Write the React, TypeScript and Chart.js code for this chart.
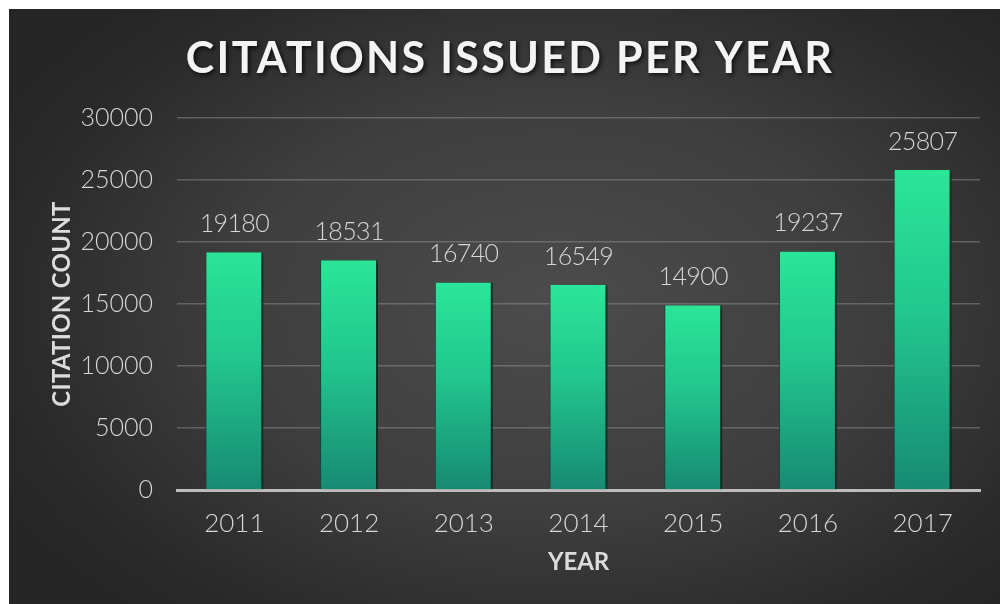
import React, { useEffect, useRef } from "react";
import { Chart, registerables } from "chart.js";

Chart.register(...registerables);

const years = ["2011", "2012", "2013", "2014", "2015", "2016", "2017"];
const citations = [19180, 18531, 16740, 16549, 14900, 19237, 25807];
const yMin = 0;
const yMax = 30000;
const yStep = 5000;
const chartTitle = "CITATIONS ISSUED PER YEAR";
const xAxisTitle = "YEAR";
const yAxisTitle = "CITATION COUNT";

const W = 991;
const H = 595;

function fitText(ctx: CanvasRenderingContext2D, text: string, target: number) {
  (ctx as any).letterSpacing = "0px";
  const w = ctx.measureText(text).width;
  const sp = (target - w) / Math.max(1, text.length - 1);
  (ctx as any).letterSpacing = `${sp.toFixed(2)}px`;
}

const textPlugin = {
  id: "customText",
  beforeDatasetsDraw(chart: any) {
    const ctx = chart.ctx;
    ctx.save();
    ctx.shadowColor = "rgba(0,0,0,0.55)";
    ctx.shadowBlur = 6;
    ctx.shadowOffsetX = 3;
    ctx.shadowOffsetY = 1;
  },
  afterDatasetsDraw(chart: any) {
    chart.ctx.restore();
  },
  afterDraw(chart: any) {
    const ctx = chart.ctx as CanvasRenderingContext2D;
    const area = chart.chartArea;
    const cx = (area.left + area.right) / 2;

    // data labels
    const meta = chart.getDatasetMeta(0);
    ctx.save();
    ctx.font = "300 25px Lato";
    ctx.fillStyle = "#d6d6d6";
    ctx.textAlign = "center";
    ctx.textBaseline = "alphabetic";
    meta.data.forEach((bar: any, i: number) => {
      fitText(ctx, String(citations[i]), 70);
      ctx.fillText(String(citations[i]), bar.x, bar.y - 20);
    });
    ctx.restore();

    // chart title
    ctx.save();
    ctx.font = "bold 43px Lato";
    ctx.fillStyle = "#f4f4f4";
    ctx.textAlign = "center";
    ctx.textBaseline = "alphabetic";
    ctx.shadowColor = "rgba(0,0,0,0.7)";
    ctx.shadowBlur = 4;
    ctx.shadowOffsetX = 2;
    ctx.shadowOffsetY = 2;
    fitText(ctx, chartTitle, 646);
    ctx.fillText(chartTitle, 501, 64);
    ctx.restore();

    // x axis title
    ctx.save();
    ctx.font = "bold 24px Lato";
    ctx.fillStyle = "#dcdcdc";
    ctx.textAlign = "center";
    ctx.textBaseline = "alphabetic";
    fitText(ctx, xAxisTitle, 61);
    ctx.fillText(xAxisTitle, cx, 561);
    ctx.restore();

    // y axis title
    ctx.save();
    ctx.translate(61, (area.top + area.bottom) / 2);
    ctx.rotate(-Math.PI / 2);
    ctx.font = "bold 24px Lato";
    ctx.fillStyle = "#dcdcdc";
    ctx.textAlign = "center";
    ctx.textBaseline = "alphabetic";
    fitText(ctx, yAxisTitle, 205);
    ctx.fillText(yAxisTitle, 0, 0);
    ctx.restore();
  },
};

export default function App() {
  const ref = useRef<HTMLCanvasElement | null>(null);

  useEffect(() => {
    if (!ref.current) return;
    const chart = new Chart(ref.current, {
      type: "bar",
      data: {
        labels: years,
        datasets: [
          {
            data: citations,
            backgroundColor: (c: any) => {
              const ch = c.chart;
              const area = ch.chartArea;
              if (!area || c.dataIndex === undefined) return "#22c48a";
              const yScale = ch.scales.y;
              const top = yScale.getPixelForValue(citations[c.dataIndex]);
              const g = ch.ctx.createLinearGradient(0, top, 0, area.bottom);
              g.addColorStop(0, "#2ae699");
              g.addColorStop(0.45, "#22c68e");
              g.addColorStop(1, "#178a72");
              return g;
            },
            borderColor: "rgba(12,80,62,0.9)",
            borderWidth: { left: 1, right: 2, top: 0, bottom: 0 },
            borderSkipped: false,
            categoryPercentage: 1,
            barPercentage: 0.505,
          },
        ],
      },
      options: {
        animation: false,
        responsive: false,
        maintainAspectRatio: false,
        layout: { padding: { left: 0, right: 20, top: 109, bottom: 0 } },
        plugins: {
          legend: { display: false },
          title: { display: false },
          tooltip: { enabled: false },
        },
        scales: {
          x: {
            grid: { display: false, drawTicks: false },
            border: { display: true, color: "#bdbdbd", width: 3 },
            ticks: {
              color: "#d6d6d6",
              font: { family: "Lato", size: 26, weight: "300" as any },
              padding: 18,
            },
            afterFit: (s: any) => {
              s.height = H - 481;
            },
          },
          y: {
            min: yMin,
            max: yMax,
            grid: {
              color: "rgba(150,150,150,0.45)",
              lineWidth: 1.5,
              drawTicks: false,
            },
            border: { display: false },
            ticks: {
              stepSize: yStep,
              color: "#d6d6d6",
              font: { family: "Lato", size: 25, weight: "300" as any },
              padding: 24,
              callback: (v: any) => String(v),
            },
            afterFit: (s: any) => {
              s.width = 168;
            },
          },
        },
      },
      plugins: [textPlugin],
    });
    return () => chart.destroy();
  }, []);

  return (
    <div
      style={{
        position: "absolute",
        left: 9,
        top: 9,
        width: W,
        height: H,
        background:
          "radial-gradient(ellipse 65% 70% at 55% 50%, #4c4c4c 0%, #3e3e3e 50%, #2a2a2a 85%, #252525 100%)",
      }}
    >
      <canvas ref={ref} width={W} height={H} style={{ display: "block" }} />
    </div>
  );
}
